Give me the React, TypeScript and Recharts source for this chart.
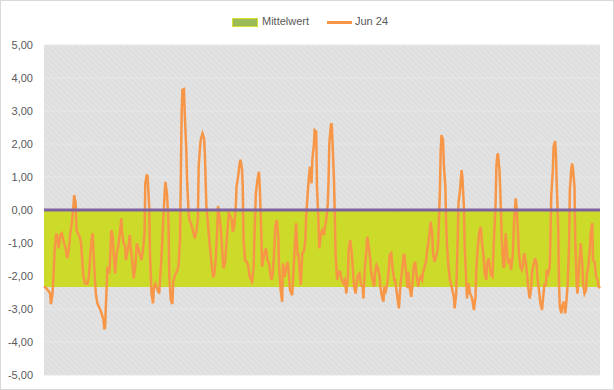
import React from 'react';
import {
  ComposedChart,
  Line,
  XAxis,
  YAxis,
  CartesianGrid,
  ReferenceArea,
  ReferenceLine,
} from 'recharts';

// Hourly values for June 2024 (hour index within the month, value)
const jun24Hourly: [number, number][] = [
  [0, -2.32], [3, -2.37], [8, -2.53], [9, -2.85], [11, -2.53], [12, -2.12], [14, -1.11], [16, -0.71],
  [17, -0.81], [19, -1.16], [21, -0.76], [23, -0.71], [26, -1.01], [28, -1.16], [30, -1.46], [32, -1.21],
  [34, -0.71], [36, -0.4], [38, 0.1], [39, 0.45], [41, 0.2], [42, -0.61], [44, -0.71], [46, -0.81],
  [48, -1.01], [50, -1.72], [51, -2.02], [53, -2.22], [56, -2.24], [58, -2.02], [60, -1.31], [62, -0.81],
  [63, -0.71], [65, -1.72], [67, -2.53], [69, -2.83], [71, -2.93], [73, -3.03], [75, -3.18], [77, -3.33],
  [78, -3.62], [79, -3.54], [81, -2.32], [82, -1.72], [84, -1.92], [85, -1.72], [87, -0.61], [89, -0.81],
  [90, -1.31], [92, -1.92], [94, -1.31], [96, -1.11], [98, -0.71], [100, -0.25], [101, -0.71], [103, -1.01],
  [105, -1.11], [106, -1.52], [109, -1.11], [111, -0.76], [112, -1.11], [114, -1.52], [116, -2.07], [118, -1.72],
  [120, -1.01], [122, -1.16], [124, -1.36], [126, -1.52], [128, -1.21], [130, -0.71], [131, 0.81], [133, 1.08],
  [134, 1.01], [136, 0.1], [137, -1.31], [139, -2.53], [141, -2.83], [142, -2.37], [144, -2.24], [146, -2.37],
  [149, -2.53], [150, -2.12], [152, -1.41], [154, -0.4], [156, 0.5], [157, 0.85], [159, 0.5], [161, -0.4],
  [162, -2.02], [164, -2.73], [166, -2.85], [167, -2.2], [169, -2.0], [172, -1.85], [174, -1.7], [176, -0.81],
  [177, 1.11], [178, 2.93], [179, 3.64], [181, 3.66], [182, 2.93], [184, 1.82], [185, 0.91], [187, -0.1],
  [188, -0.3], [190, -0.4], [193, -0.66], [195, -0.86], [197, -0.66], [199, -0.3], [200, 1.31], [202, 1.97],
  [203, 2.17], [205, 2.32], [207, 2.17], [208, 1.72], [210, 0.1], [212, -0.4], [213, -0.71], [215, -1.21],
  [217, -1.72], [219, -2.04], [220, -1.97], [222, -1.52], [224, -0.61], [225, 0.12], [227, -0.2], [229, -0.71],
  [231, -1.41], [232, -1.77], [234, -1.62], [236, -1.01], [238, -0.4], [239, -0.1], [241, -0.2], [243, -0.3],
  [244, -0.66], [246, -0.51], [248, 0.1], [249, 0.71], [251, 1.01], [253, 1.41], [254, 1.52], [256, 1.26],
  [257, 0.71], [258, -0.91], [260, -1.52], [262, -1.57], [264, -1.67], [266, -2.02], [269, -2.17], [271, -1.77],
  [272, -0.91], [274, 0.51], [276, 0.91], [278, 1.16], [279, 0.71], [281, -0.71], [282, -1.72], [285, -1.31],
  [287, -1.16], [289, -1.52], [291, -1.62], [294, -2.12], [296, -1.92], [298, -1.11], [299, -0.51], [301, -0.3],
  [303, -0.81], [304, -1.72], [306, -2.42], [308, -2.78], [309, -1.62], [311, -2.02], [313, -1.77], [315, -1.57],
  [317, -2.02], [318, -2.42], [321, -2.58], [322, -2.12], [324, -1.21], [326, -0.4], [328, -1.41], [329, -1.31],
  [331, -2.02], [332, -2.27], [334, -1.31], [336, -1.26], [338, -0.91], [339, -0.2], [341, 0.51], [343, 1.11],
  [344, 1.31], [346, 0.81], [347, 1.52], [349, 1.97], [350, 2.42], [352, 2.37], [353, 0.71], [355, -0.4],
  [356, -1.16], [358, -0.71], [360, -0.61], [362, -0.76], [363, -0.56], [365, -0.3], [367, 0.2], [368, 0.91],
  [369, 2.02], [371, 2.58], [372, 2.63], [373, 2.12], [375, 0.91], [376, -0.1], [377, -1.31], [379, -2.12],
  [381, -1.87], [383, -1.87], [385, -2.12], [387, -2.22], [389, -2.12], [391, -2.53], [393, -2.02], [394, -1.21],
  [396, -0.91], [398, -1.31], [400, -2.02], [401, -2.32], [403, -2.53], [405, -2.12], [406, -1.97], [408, -1.92],
  [410, -2.27], [412, -2.32], [413, -2.68], [415, -1.72], [417, -1.21], [418, -0.81], [420, -1.11], [422, -1.52],
  [423, -1.87], [425, -2.12], [427, -2.32], [428, -1.92], [430, -1.67], [432, -1.77], [434, -2.02], [435, -2.32],
  [437, -2.63], [439, -2.78], [440, -2.32], [442, -2.45], [444, -2.22], [446, -1.77], [447, -1.36], [449, -1.31],
  [451, -1.82], [453, -2.12], [454, -2.12], [456, -2.47], [458, -2.83], [459, -2.98], [461, -2.22], [463, -1.87],
  [465, -1.36], [466, -1.36], [468, -1.82], [470, -2.37], [471, -1.87], [473, -2.37], [475, -2.63], [477, -2.12],
  [478, -1.72], [480, -1.57], [482, -2.02], [484, -2.32], [485, -2.12], [487, -2.02], [489, -2.12], [490, -1.92],
  [492, -1.72], [494, -1.57], [496, -1.11], [497, -1.01], [499, -0.61], [500, -0.35], [502, -0.71], [503, -1.31],
  [505, -1.57], [507, -1.41], [509, -1.21], [510, -0.81], [512, 0.61], [513, 1.82], [514, 2.27], [516, 2.12],
  [517, 1.41], [519, 0.71], [520, -0.4], [521, -1.01], [523, -1.72], [525, -2.12], [526, -2.22], [528, -2.42],
  [530, -2.63], [531, -2.98], [533, -2.53], [535, -0.91], [536, 0.2], [538, 0.61], [540, 1.21], [541, 1.01],
  [543, 0.1], [544, -1.11], [546, -2.12], [547, -2.68], [549, -2.22], [551, -2.53], [553, -2.63], [554, -2.73],
  [556, -3.03], [558, -2.63], [559, -1.82], [561, -1.11], [563, -0.66], [565, -0.51], [566, -0.91], [568, -1.31],
  [570, -1.92], [572, -2.12], [573, -1.62], [575, -1.46], [577, -1.82], [578, -1.97], [580, -2.02], [582, -0.81],
  [584, 0.2], [585, 1.31], [586, 1.62], [587, 1.72], [589, 1.21], [590, 0.61], [592, -0.91], [594, -1.72],
  [595, -1.72], [597, -0.71], [599, -1.31], [600, -1.57], [602, -1.52], [604, -1.82], [606, -1.41], [607, -0.91],
  [608, -0.3], [610, 0.35], [611, 0.15], [613, -0.71], [614, -1.26], [616, -1.72], [618, -1.82], [619, -1.72],
  [621, -1.31], [623, -1.57], [625, -2.02], [626, -2.32], [628, -2.68], [630, -2.37], [631, -1.87], [633, -1.67],
  [635, -1.46], [637, -1.62], [638, -2.02], [640, -2.42], [642, -2.83], [644, -3.03], [645, -2.78], [647, -2.27],
  [649, -2.27], [650, -1.82], [652, -1.92], [654, -1.72], [655, -0.71], [656, 0.45], [658, 1.21], [659, 1.92],
  [661, 2.09], [662, 1.72], [663, 0.81], [665, -0.61], [666, -2.22], [667, -2.93], [669, -3.13], [670, -2.93],
  [672, -2.78], [674, -3.13], [675, -2.93], [677, -2.32], [679, -1.11], [680, 0.61], [682, 1.26], [683, 1.41],
  [684, 1.26], [686, 0.71], [687, -0.91], [689, -2.32], [690, -2.53], [692, -1.67], [694, -1.01], [696, -1.62],
  [697, -2.22], [699, -2.53], [701, -2.42], [702, -1.92], [704, -1.72], [706, -1.11], [707, -0.71], [709, -0.4],
  [710, -1.52], [712, -1.57], [714, -2.02], [716, -2.12], [717, -2.32], [719, -2.37],
];

const mittelwert = -2.33;
const yTicks = [-5, -4, -3, -2, -1, 0, 1, 2, 3, 4, 5];
const seriesNames = { mean: 'Mittelwert', month: 'Jun 24' };

const data = jun24Hourly.map(([hour, value]) => ({ hour, value }));

const fmt = (v: number) =>
  v.toLocaleString('de-DE', { minimumFractionDigits: 2, maximumFractionDigits: 2 });

const textColor = '#595959';

export default function App() {
  return (
    <div
      style={{
        position: 'absolute',
        left: 0,
        top: 0,
        width: 614,
        height: 390,
        background: '#fff',
        fontFamily: '"Liberation Sans", Arial, sans-serif',
      }}
    >
      <svg width={0} height={0} style={{ position: 'absolute' }}>
        <defs>
          <pattern
            id="hatch"
            width={4}
            height={4}
            patternUnits="userSpaceOnUse"
            patternTransform="rotate(-45)"
          >
            <rect width={4} height={4} fill="#E2E2E2" />
            <line x1={0} y1={0} x2={0} y2={4} stroke="#D8D8D8" strokeWidth={1.4} />
          </pattern>
        </defs>
      </svg>

      <ComposedChart
        width={614}
        height={390}
        data={data}
        margin={{ top: 45, right: 14, bottom: 15, left: 4 }}
      >
        <CartesianGrid vertical={false} stroke="#E7E7E7" fill="url(#hatch)" />
        <XAxis dataKey="hour" type="number" domain={[0, 719]} hide />
        <YAxis
          domain={[-5, 5]}
          ticks={yTicks}
          width={40}
          axisLine={false}
          tickLine={false}
          tickMargin={5}
          tickFormatter={fmt}
          tick={{ fill: textColor, fontSize: 11 }}
        />
        <ReferenceArea y1={mittelwert} y2={0} fill="#CCDB2A" fillOpacity={1} stroke="none" />
        <Line
          type="linear"
          dataKey="value"
          stroke="#F79646"
          strokeWidth={2.5}
          dot={false}
          isAnimationActive={false}
        />
        <ReferenceLine y={0} stroke="#7E62A1" strokeWidth={3} />
      </ComposedChart>

      {/* legend */}
      <div style={{ position: 'absolute', left: 232, top: 18, width: 24, height: 7, background: '#9BBB59', border: '1px solid #D6E02E' }} />
      <div style={{ position: 'absolute', left: 262, top: 15, fontSize: 11, color: textColor, lineHeight: '13px' }}>
        {seriesNames.mean}
      </div>
      <div style={{ position: 'absolute', left: 327, top: 21, width: 25, height: 2.5, background: '#F79646' }} />
      <div style={{ position: 'absolute', left: 355, top: 15, fontSize: 11, color: textColor, lineHeight: '13px' }}>
        {seriesNames.month}
      </div>

      <div
        style={{
          position: 'absolute',
          left: 0,
          top: 0,
          width: 614,
          height: 390,
          boxSizing: 'border-box',
          border: '1px solid #D9D9D9',
          pointerEvents: 'none',
        }}
      />
    </div>
  );
}
